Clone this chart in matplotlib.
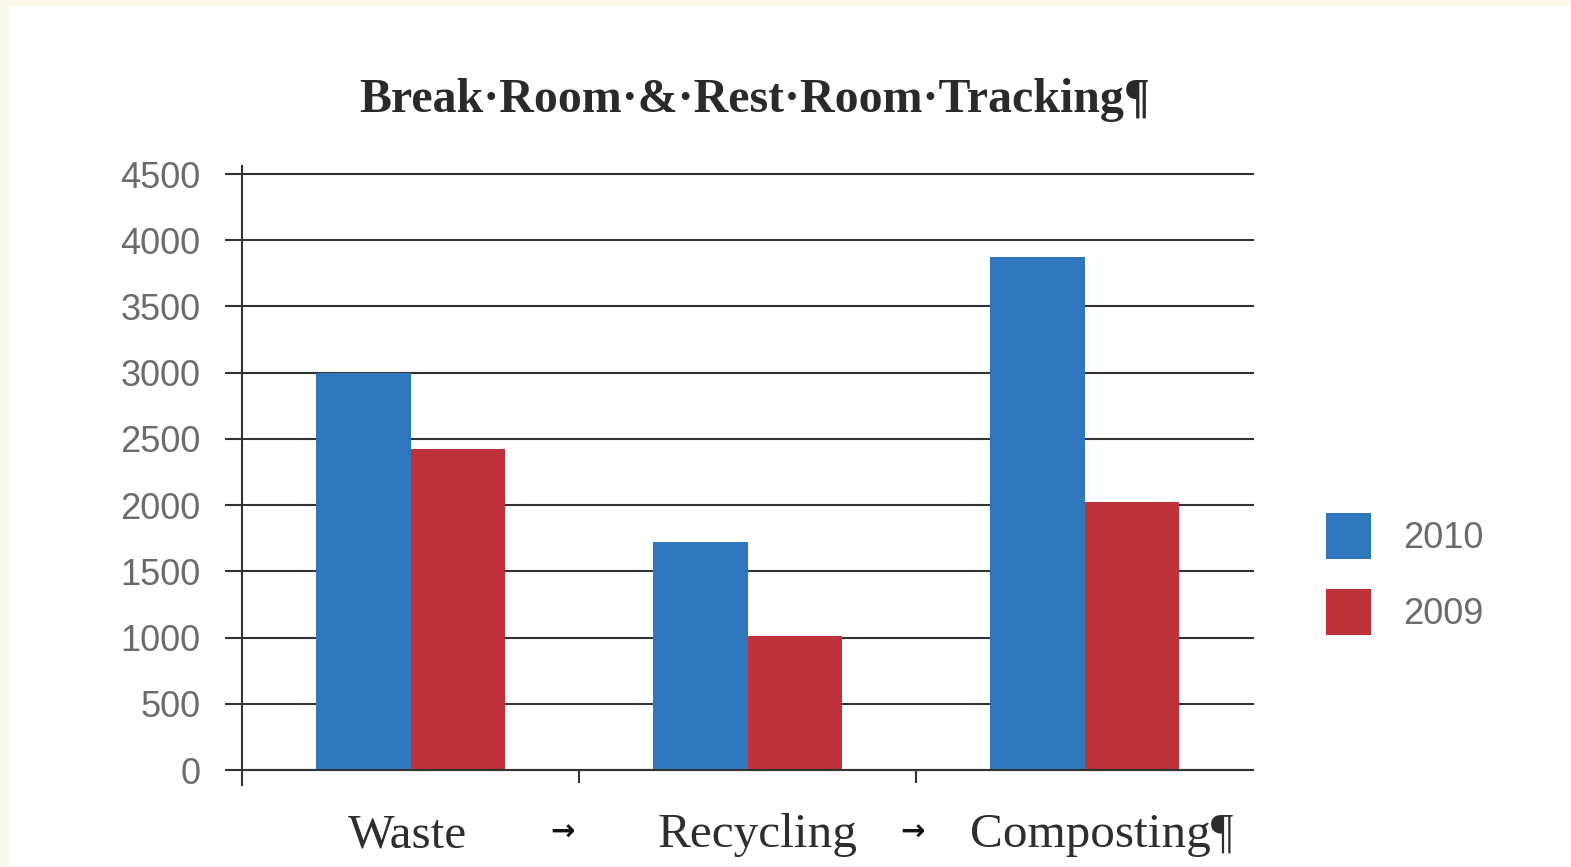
import numpy as np
import matplotlib
matplotlib.use('Agg')
import matplotlib.pyplot as plt
from matplotlib.patches import Rectangle
from matplotlib.transforms import blended_transform_factory

# datos
categorias = ['Waste', 'Recycling', 'Composting¶']
series = ['2010', '2009']
valores_2010 = [3000, 1720, 3870]
valores_2009 = [2420, 1010, 2020]
ticks_y = [0, 500, 1000, 1500, 2000, 2500, 3000, 3500, 4000, 4500]

azul = '#2F77BC'
rojo = '#BE323B'
gris = '#6B6B6B'
linea = '#333333'
serif = ['Liberation Serif', 'DejaVu Serif']
sans = ['Liberation Sans', 'DejaVu Sans']

fig = plt.figure(figsize=(15.71, 8.67), dpi=100, facecolor='#FBF9EC')
# panel blanco
panel = Rectangle((9 / 1571, 0), 1, 1 - 6 / 867, transform=fig.transFigure,
                  facecolor='white', edgecolor='none', zorder=-10)
fig.add_artist(panel)

ax = fig.add_axes([242 / 1571, 1 - 770 / 867, 1011 / 1571, 596 / 867])
ax.set_facecolor('none')

x = np.arange(len(categorias))
ancho = 0.28
ax.bar(x - ancho / 2, valores_2010, ancho, color=azul, label=series[0], zorder=3)
ax.bar(x + ancho / 2, valores_2009, ancho, color=rojo, label=series[1], zorder=3)

ax.set_xlim(-0.5, len(categorias) - 0.5)
ax.set_ylim(0, 4500)
ax.set_yticks(ticks_y)
ax.set_yticklabels([str(t) for t in ticks_y], fontfamily=sans, fontsize=26, color=gris)
ax.yaxis.grid(True, color=linea, linewidth=1.5, zorder=1)
for g in ax.yaxis.get_gridlines():
  g.set_clip_on(False)
ax.set_axisbelow(True)
ax.set_xticks([0.5, 1.5])
ax.set_xticklabels([])
ax.tick_params(axis='x', direction='out', length=9, width=1.5, color=linea)
ax.tick_params(axis='y', direction='out', length=12, width=1.5, color=linea, pad=18)

for lado in ['top', 'right']:
  ax.spines[lado].set_visible(False)
ax.spines['left'].set_color(linea)
ax.spines['left'].set_linewidth(1.5)
ax.spines['left'].set_bounds(-110, 4560)
ax.spines['bottom'].set_color(linea)
ax.spines['bottom'].set_linewidth(1.5)
ax.spines['bottom'].set_zorder(4)

# etiquetas de categorias como una linea de texto debajo (como en Word)
trans = blended_transform_factory(ax.transData, fig.transFigure)
desplaz = [-0.01, 0.03, 0.05]
for i, cat in enumerate(categorias):
  ax.text(i + desplaz[i], 1 - 835 / 867, cat, transform=trans, ha='center', va='center',
          fontfamily=serif, fontsize=35.5, color='#2E2E2E')
for b in [0.45, 1.49]:
  ax.text(b, 1 - 833 / 867, '→', transform=trans, ha='center', va='center',
          fontfamily=['DejaVu Sans'], fontsize=21, fontweight='bold', color='#111111')

fig.text(755 / 1571, 1 - 100 / 867, 'Break·Room·&·Rest·Room·Tracking¶', ha='center', va='center',
         fontfamily=serif, fontsize=34.5, fontweight='bold', color='#2A2A2A')

leg = fig.legend(loc='center left', bbox_to_anchor=(1293 / 1571, 1 - 574 / 867), frameon=False,
                 prop={'family': sans, 'size': 26}, handlelength=1.25, handleheight=1.55,
                 labelspacing=0.85, handletextpad=0.9)
for t in leg.get_texts():
  t.set_color(gris)

fig.savefig('out.png', dpi=100, facecolor=fig.get_facecolor())
